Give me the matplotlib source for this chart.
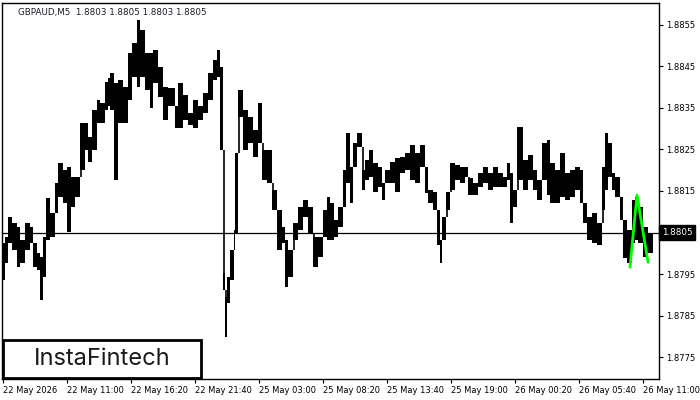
import numpy as np
import matplotlib.pyplot as plt
from matplotlib.patches import Rectangle

# GBPAUD M5 - price swings, grouped in runs of M5 bars
seg_bars = [3, 3, 4, 5, 3, 5, 5, 3, 4, 3, 3, 3, 4, 5, 3, 5, 4, 4, 4, 5, 5, 3, 4, 5, 3, 5, 3, 2,
            4, 4, 5, 5, 4, 5, 3, 5, 5, 3, 5, 5, 5, 7, 3, 5, 5, 5, 5, 5, 5, 5, 4, 3,
            3, 2, 2, 3, 4, 1, 3, 5, 5, 5, 5, 4, 5, 5, 5, 5, 3, 3, 5, 5, 5, 5, 5, 5, 5, 4, 3,
            4, 4, 5, 3, 4, 3, 4, 5, 3, 4, 4, 5, 4, 3, 5, 5, 5, 5, 5, 5, 5, 5, 3, 5, 4, 3,
            2, 4, 4, 5, 5, 5, 3, 5, 5, 5, 5, 5, 5, 5, 4, 3, 3, 4, 6, 5, 5, 4, 5, 5, 3,
            5, 5, 5, 5, 5, 5, 3, 4, 5, 5, 5, 3, 3, 4, 3, 5, 3, 4, 5, 3, 3, 5, 5, 5]
seg_high = [1.88025, 1.88039, 1.88087, 1.88073, 1.88063, 1.88032, 1.88073, 1.88063, 1.88025, 1.88001,
            1.87991, 1.88039, 1.88133, 1.88097, 1.88169, 1.88217, 1.88201, 1.88208, 1.88184, 1.88184,
            1.88314, 1.88314, 1.88280, 1.88345, 1.88369, 1.88362, 1.88413, 1.88422,
            1.88434, 1.88410, 1.88418, 1.88401, 1.88483, 1.88507, 1.88562, 1.88538, 1.88483, 1.88483,
            1.88490, 1.88449, 1.88401, 1.88398, 1.88355, 1.88410, 1.88381, 1.88338, 1.88369, 1.88355,
            1.88386, 1.88434, 1.88466, 1.88490,
            1.88449, 1.87952, 1.87895, 1.87943, 1.88008, 1.88056, 1.88242, 1.88393, 1.88345, 1.88328,
            1.88297, 1.88362, 1.88249, 1.88249, 1.88152, 1.88104, 1.88063, 1.88032, 1.88008, 1.88073,
            1.88111, 1.88128, 1.88111, 1.88039, 1.88039, 1.88104, 1.88136,
            1.88121, 1.88080, 1.88111, 1.88201, 1.88290, 1.88208, 1.88266, 1.88290, 1.88201, 1.88225,
            1.88249, 1.88217, 1.88208, 1.88169, 1.88201, 1.88220, 1.88230, 1.88232, 1.88242, 1.88261,
            1.88242, 1.88261, 1.88208, 1.88152, 1.88148, 1.88104,
            1.88032, 1.88087, 1.88148, 1.88217, 1.88213, 1.88208, 1.88208, 1.88181, 1.88169, 1.88193,
            1.88208, 1.88193, 1.88208, 1.88193, 1.88184, 1.88217, 1.88193, 1.88152, 1.88304, 1.88225,
            1.88237, 1.88201, 1.88177, 1.88266, 1.88273,
            1.88217, 1.88201, 1.88242, 1.88193, 1.88201, 1.88208, 1.88201, 1.88121, 1.88087, 1.88097,
            1.88073, 1.88208, 1.88290, 1.88266, 1.88193, 1.88184, 1.88136, 1.88080, 1.88056, 1.88128,
            1.88136, 1.88111, 1.88063, 1.88049]
seg_low = [1.87936, 1.87977, 1.88025, 1.88008, 1.87967, 1.87977, 1.88008, 1.88025, 1.87967, 1.87960,
           1.87887, 1.87943, 1.88032, 1.88039, 1.88097, 1.88136, 1.88121, 1.88051, 1.88111, 1.88136,
           1.88201, 1.88249, 1.88221, 1.88249, 1.88314, 1.88314, 1.88345, 1.88355,
           1.88345, 1.88177, 1.88314, 1.88314, 1.88369, 1.88425, 1.88401, 1.88425, 1.88393, 1.88350,
           1.88410, 1.88377, 1.88321, 1.88355, 1.88302, 1.88302, 1.88321, 1.88309, 1.88302, 1.88321,
           1.88338, 1.88369, 1.88418, 1.88425,
           1.88249, 1.87911, 1.87798, 1.87880, 1.87936, 1.88008, 1.88049, 1.88328, 1.88249, 1.88266,
           1.88232, 1.88266, 1.88177, 1.88169, 1.88104, 1.88008, 1.88025, 1.87919, 1.87943, 1.88032,
           1.88056, 1.88087, 1.88049, 1.87967, 1.87991, 1.88039, 1.88032,
           1.88032, 1.88039, 1.88063, 1.88111, 1.88169, 1.88121, 1.88208, 1.88256, 1.88152, 1.88177,
           1.88184, 1.88148, 1.88160, 1.88128, 1.88169, 1.88169, 1.88148, 1.88193, 1.88201, 1.88177,
           1.88169, 1.88208, 1.88145, 1.88121, 1.88104, 1.88020,
           1.87977, 1.88032, 1.88104, 1.88152, 1.88177, 1.88169, 1.88184, 1.88140, 1.88140, 1.88160,
           1.88169, 1.88152, 1.88160, 1.88160, 1.88160, 1.88177, 1.88073, 1.88111, 1.88177, 1.88152,
           1.88177, 1.88152, 1.88128, 1.88177, 1.88140,
           1.88121, 1.88121, 1.88136, 1.88128, 1.88136, 1.88152, 1.88121, 1.88073, 1.88032, 1.88025,
           1.88020, 1.88104, 1.88152, 1.88184, 1.88152, 1.88136, 1.88080, 1.87989, 1.87977, 1.88025,
           1.88032, 1.88025, 1.87991, 1.88001]

last_price = 1.8805
title = "GBPAUD,M5  1.8803 1.8805 1.8803 1.8805"

# pattern (green) - bar index and price
pattern_bars = [628, 635, 646]
pattern_prices = [1.87967, 1.88140, 1.87979]

time_labels = ["22 May 2026", "22 May 11:00", "22 May 16:20", "22 May 21:40", "25 May 03:00",
               "25 May 08:20", "25 May 13:40", "25 May 19:00", "26 May 00:20", "26 May 05:40",
               "26 May 11:00"]
price_ticks = [1.8775, 1.8785, 1.8795, 1.8805, 1.8815, 1.8825, 1.8835, 1.8845, 1.8855]

W, H = 700, 400
fig = plt.figure(figsize=(7, 4), dpi=100)
ax = fig.add_axes([2 / W, 21 / H, 657 / W, 376 / H])

starts = np.concatenate([[0], np.cumsum(seg_bars)[:-1]])
hi = np.array(seg_high)
lo = np.array(seg_low)
ax.bar(starts, hi - lo, bottom=lo, width=seg_bars, align='edge',
       color='black', linewidth=0, zorder=2)
# link each run to the one before it, as the bars in the chart do
ax.vlines(starts[1:] + 0.5, np.minimum(hi[1:], hi[:-1]), np.maximum(lo[1:], lo[:-1]),
          color='black', lw=1.2, zorder=2)

ax.axhline(last_price, color='black', lw=0.9, zorder=1)
ax.plot(pattern_bars, pattern_prices, color='#00ff00', lw=2, zorder=3)

ax.set_xlim(0, 657)
ax.set_ylim(1.87697, 1.88603)

ax.yaxis.tick_right()
ax.set_yticks(price_ticks)
# the price tag covers the 1.8805 label
ax.set_yticklabels(["" if p == last_price else f"{p:.4f}" for p in price_ticks])
tick_pos = [1 + 64 * i for i in range(len(time_labels))]
ax.set_xticks(tick_pos)
ax.set_xticklabels(time_labels, ha='left')
ax.tick_params(axis='both', length=3, width=0.8, labelsize=6, colors='black', pad=2)
for s in ax.spines.values():
    s.set_linewidth(1)

# current price tag
ax.text(1.004, last_price, f"{last_price:.4f}", transform=ax.get_yaxis_transform(),
        ha='left', va='center', fontsize=6.3, color='white',
        bbox=dict(boxstyle='square,pad=0.3', fc='black', ec='black'))

fig.text(18 / W, 1 - 12 / H, title, fontsize=6.3, va='center', ha='left', color='#1a1a2a')

# logo box
fig.patches.append(Rectangle((3 / W, 22 / H), 198 / W, 38 / H, transform=fig.transFigure,
                             fc='white', ec='black', lw=2, zorder=5))
fig.text(102 / W, 1 - 359 / H, "InstaFintech", fontsize=17, family='Inter',
         ha='center', va='center', color='#1a1a1a', zorder=6)

fig.savefig("out.png", dpi=100)
